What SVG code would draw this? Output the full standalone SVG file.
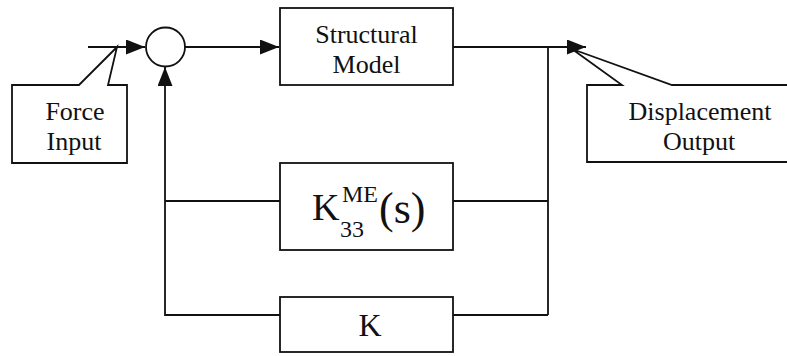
<svg xmlns="http://www.w3.org/2000/svg" width="787" height="356" viewBox="0 0 787 356">
<style>
.ln{fill:none;stroke:#111;stroke-width:1.8}
.bx{fill:#fff;stroke:#111;stroke-width:1.8}
text{font-family:'Liberation Serif','Times New Roman',Times,'DejaVu Serif',serif;fill:#111}
.t{text-anchor:middle;font-size:26px}
</style>
<defs>
<marker id="arr" viewBox="0 0 19 15" refX="19" refY="7.5" markerWidth="19" markerHeight="15" markerUnits="userSpaceOnUse" orient="auto">
<path d="M0,0 L19,7.5 L0,15 Z" fill="#111"/>
</marker>
</defs>
<rect width="787" height="356" fill="#fff"/>
<g id="connectors">
<path class="ln" d="M88,47 H145" marker-end="url(#arr)"/>
<path class="ln" d="M185,47 H279" marker-end="url(#arr)"/>
<path class="ln" d="M453,47 H586" marker-end="url(#arr)"/>
<path class="ln" d="M548,47 V315"/>
<path class="ln" d="M453,201 H548"/>
<path class="ln" d="M453,315 H548"/>
<path class="ln" d="M280,201 H165"/>
<path class="ln" d="M280,315 H165 V67" marker-end="url(#arr)"/>
</g>
<g id="sum">
<circle class="bx" cx="165.5" cy="47" r="19.5"/>
</g>
<g id="structural-model">
<rect class="bx" x="280" y="8" width="173" height="77"/>
<text class="t" x="366.5" y="43" font-family="Liberation Serif, serif">Structural</text>
<text class="t" x="366.5" y="73" font-family="Liberation Serif, serif">Model</text>
</g>
<g id="k33">
<rect class="bx" x="280" y="163" width="173" height="87"/>
<text font-family="Liberation Serif, serif"><tspan x="312" y="220" font-size="38">K</tspan><tspan x="340" y="237" font-size="24">33</tspan><tspan x="342" y="202" font-size="24">ME</tspan><tspan x="379" y="223" font-size="44">(s)</tspan></text>
</g>
<g id="k">
<rect class="bx" x="280" y="297" width="173" height="55"/>
<text class="t" x="370" y="336" style="font-size:32px" font-family="Liberation Serif, serif">K</text>
</g>
<g id="force-input">
<path class="bx" d="M12,85 H79 L117,47 L108,85 H127 V163 H12 Z"/>
<text class="t" x="75" y="120" font-family="Liberation Serif, serif">Force</text>
<text class="t" x="74" y="150" font-family="Liberation Serif, serif">Input</text>
</g>
<g id="displacement-output">
<path class="bx" d="M587,85 H622 L572,49 L672,85 H792 V162 H587 Z"/>
<text class="t" x="700" y="120" font-family="Liberation Serif, serif">Displacement</text>
<text class="t" x="699" y="150" font-family="Liberation Serif, serif">Output</text>
</g>
</svg>
